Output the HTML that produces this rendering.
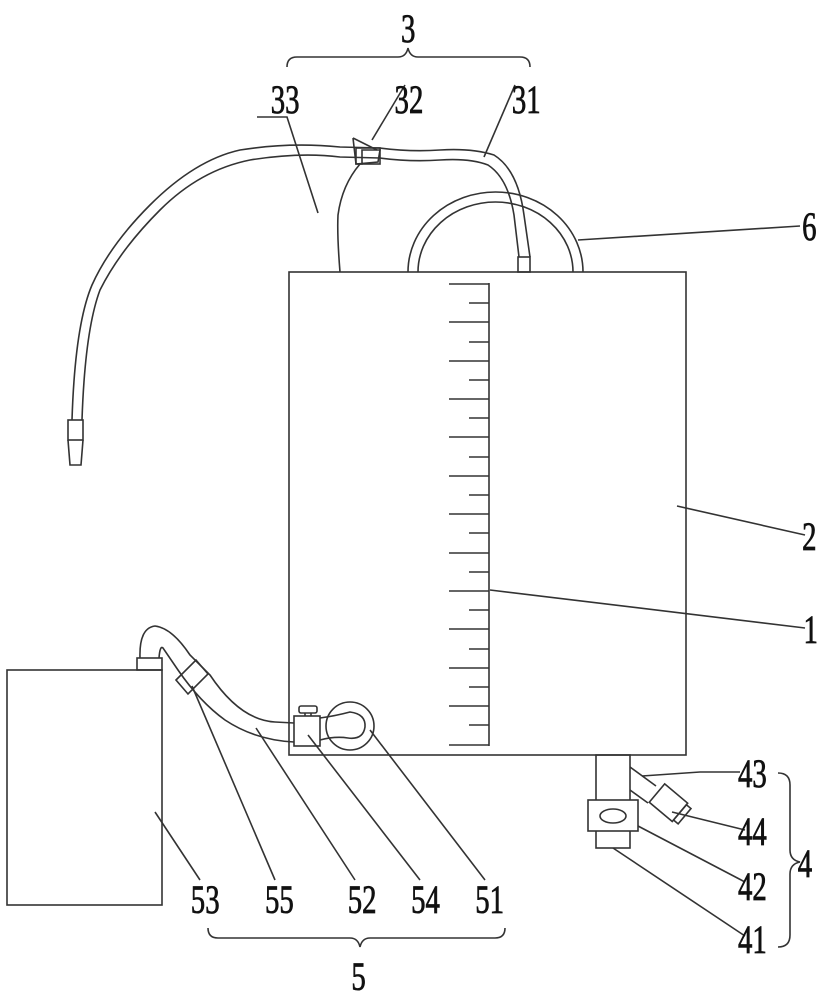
<!DOCTYPE html>
<html><head><meta charset="utf-8"><style>
html,body{margin:0;padding:0;background:#fff;}
svg{display:block;}
text{font-family:"Liberation Serif",serif;font-size:40px;fill:#111;stroke:#111;stroke-width:0.8;}
</style></head><body>
<svg width="831" height="1000" viewBox="0 0 831 1000" xmlns="http://www.w3.org/2000/svg">
<g fill="none" stroke="#333" stroke-width="1.6">
<rect x="289" y="272" width="397" height="483"/>
<line x1="489" y1="283" x2="489" y2="746"/>
<g>
<line x1="449" y1="284" x2="489" y2="284"/><line x1="469" y1="303" x2="489" y2="303"/>
<line x1="449" y1="322" x2="489" y2="322"/><line x1="469" y1="342" x2="489" y2="342"/>
<line x1="449" y1="361" x2="489" y2="361"/><line x1="469" y1="380" x2="489" y2="380"/>
<line x1="449" y1="399" x2="489" y2="399"/><line x1="469" y1="418" x2="489" y2="418"/>
<line x1="449" y1="437" x2="489" y2="437"/><line x1="469" y1="457" x2="489" y2="457"/>
<line x1="449" y1="476" x2="489" y2="476"/><line x1="469" y1="495" x2="489" y2="495"/>
<line x1="449" y1="514" x2="489" y2="514"/><line x1="469" y1="533" x2="489" y2="533"/>
<line x1="449" y1="553" x2="489" y2="553"/><line x1="469" y1="572" x2="489" y2="572"/>
<line x1="449" y1="591" x2="489" y2="591"/><line x1="469" y1="610" x2="489" y2="610"/>
<line x1="449" y1="629" x2="489" y2="629"/><line x1="469" y1="649" x2="489" y2="649"/>
<line x1="449" y1="668" x2="489" y2="668"/><line x1="469" y1="687" x2="489" y2="687"/>
<line x1="449" y1="706" x2="489" y2="706"/><line x1="469" y1="725" x2="489" y2="725"/>
<line x1="449" y1="745" x2="489" y2="745"/>
</g>
<path d="M408 272 A87.5 80 0 0 1 583 272"/>
<path d="M418 272 A77.5 70 0 0 1 573 272"/>
<path d="M519 257 L514 215 Q508 178 488 165 Q470 158 440 160 Q410 162 380 158 L340 157 Q300 152 250 160 Q200 170 160 210 Q120 250 100 290 Q85 330 82 420"/>
<path d="M530 257 L524 215 Q518 170 494 155 Q472 148 440 150 Q410 152 380 148 L340 147 Q290 142 240 150 Q195 160 150 205 Q110 245 92 285 Q75 325 72 420"/>
<rect x="518" y="257" width="12" height="15"/>
<rect x="68" y="420" width="15" height="20"/>
<path d="M68 440 L70 465 L81 465 L83 440"/>
<path d="M353 138 L356 164 L362 164 L362 150 L380 150 L378 162 L356 164"/>
<path d="M353 138 L377 150"/>
<rect x="356" y="148" width="24" height="16"/>
<path d="M340 272 Q337 235 338 215 Q342 185 360 164"/>
<polyline points="257,117 287,117 318,213"/>
<line x1="372" y1="140" x2="405" y2="85"/>
<line x1="484" y1="157" x2="515" y2="85"/>
<line x1="578" y1="240" x2="800" y2="226"/>
<line x1="677" y1="506" x2="805" y2="535"/>
<line x1="490" y1="590" x2="805" y2="628"/>
<path d="M287 67 Q287 57 297 57 L398 57 Q406 57 408 48 Q410 57 418 57 L520 57 Q530 57 530 67"/>
<rect x="7" y="670" width="155" height="235"/>
<rect x="137" y="658" width="25" height="12"/>
<path d="M140 658 Q139 628 155 626 Q172 628 190 655 L210 675 Q240 720 275 722 L294 723"/>
<path d="M159 658 Q160 645 163 648 L178 670 Q200 702 225 720 Q255 740 294 742"/>
<path d="M176 680 L196 660 L208 674 L188 694 Z"/>
<rect x="294" y="716" width="26" height="30"/>
<rect x="299" y="706" width="18" height="7" rx="2"/>
<line x1="305" y1="713" x2="305" y2="716"/><line x1="311" y1="713" x2="311" y2="716"/>
<circle cx="350" cy="726" r="24"/>
<path d="M320 718 Q335 716 350 712 Q366 714 365 727 Q363 740 348 738 Q335 736 320 740"/>
<line x1="155" y1="812" x2="200" y2="880"/>
<line x1="192" y1="686" x2="275" y2="880"/>
<line x1="256" y1="728" x2="355" y2="880"/>
<line x1="308" y1="735" x2="420" y2="880"/>
<line x1="370" y1="730" x2="485" y2="880"/>
<path d="M208 928 Q208 938 218 938 L350 938 Q358 938 360 947 Q362 938 370 938 L495 938 Q505 938 505 928"/>
<rect x="596" y="755" width="34" height="93"/>
<rect x="588" y="800" width="50" height="31" fill="#fff"/>
<ellipse cx="613" cy="816" rx="13" ry="7"/>
<line x1="630" y1="767" x2="656" y2="786"/>
<line x1="630" y1="790" x2="648" y2="803"/>
<g transform="translate(670,804) rotate(40)">
<rect x="-17" y="-12" width="30" height="24" fill="#fff"/>
<rect x="13" y="-10" width="6" height="20"/>
</g>
<polyline points="642,776 700,772 740,772"/>
<line x1="672" y1="812" x2="745" y2="830"/>
<line x1="638" y1="826" x2="745" y2="882"/>
<line x1="613" y1="848" x2="745" y2="936"/>
<path d="M778 773 Q790 773 790 785 L790 850 Q790 860 800 862 Q790 864 790 874 L790 935 Q790 947 778 947"/>
</g>
<g transform="scale(0.72,1)">
<text x="557" y="42" font-size="38">3</text>
<text x="376" y="113">33</text>
<text x="548" y="113">32</text>
<text x="711" y="113">31</text>
<text x="1114" y="240">6</text>
<text x="1114" y="550">2</text>
<text x="1116" y="643">1</text>
<text x="1025" y="787">43</text>
<text x="1025" y="845">44</text>
<text x="1025" y="900">42</text>
<text x="1025" y="953">41</text>
<text x="1108" y="877">4</text>
<text x="265" y="913">53</text>
<text x="368" y="913">55</text>
<text x="483" y="913">52</text>
<text x="571" y="913">54</text>
<text x="660" y="913">51</text>
<text x="488" y="990">5</text>
</g>
</svg>
</body></html>
